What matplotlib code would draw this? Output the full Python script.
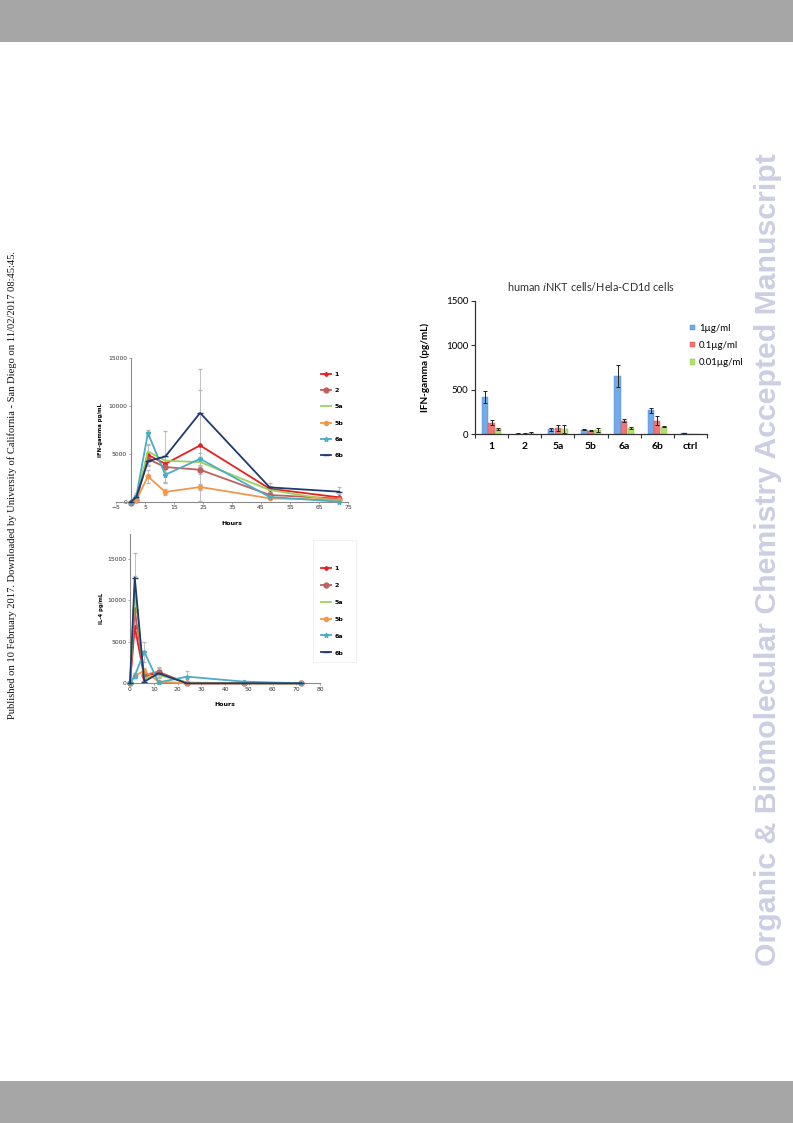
import matplotlib
matplotlib.use("Agg")
import matplotlib.pyplot as plt
from matplotlib.patches import Rectangle
from matplotlib.lines import Line2D
import numpy as np

# ---------------- data ----------------
hours = [0, 2, 6, 12, 24, 48, 72]
series_names = ['1', '2', '5a', '5b', '6a', '6b']

ifn_1 = [0, 300, 4900, 3970, 5880, 1380, 480]
ifn_2 = [-100, 200, 4460, 3630, 3350, 730, 350]
ifn_5a = [0, 400, 5250, 4290, 4150, 1250, 70]
ifn_5b = [-50, 200, 2660, 1040, 1560, 380, 240]
ifn_6a = [0, 600, 7150, 2830, 4490, 520, 30]
ifn_6b = [0, 500, 4250, 4730, 9260, 1520, 1070]
ifn_err_1 = [50, 100, 1100, 400, 5800, 300, 300]
ifn_err_2 = [50, 100, 600, 500, 400, 200, 150]
ifn_err_5a = [50, 100, 700, 500, 500, 200, 50]
ifn_err_5b = [50, 100, 700, 300, 300, 100, 100]
ifn_err_6a = [50, 300, 300, 900, 600, 200, 50]
ifn_err_6b = [50, 200, 500, 2650, 4550, 500, 500]

il4_1 = [0, 6830, 800, 1300, 0, 0, 0]
il4_2 = [0, 8840, 1000, 1400, 0, 0, 0]
il4_5a = [0, 11460, 600, 1000, 100, 0, 0]
il4_5b = [0, 900, 1500, 200, 0, 0, 0]
il4_6a = [0, 900, 3800, 100, 800, 200, 0]
il4_6b = [0, 12750, 200, 1200, 0, 0, 0]
il4_err_1 = [0, 1200, 300, 500, 0, 0, 0]
il4_err_2 = [0, 1200, 300, 600, 0, 0, 0]
il4_err_5a = [0, 1500, 300, 400, 0, 0, 0]
il4_err_5b = [0, 300, 400, 100, 0, 0, 0]
il4_err_6a = [0, 300, 1200, 100, 700, 100, 0]
il4_err_6b = [0, 2950, 100, 400, 0, 0, 0]

bar_cats = ['1', '2', '5a', '5b', '6a', '6b', 'ctrl']
bar_1ug = [414, 3, 53, 49, 654, 267, 11]
bar_1ug_err = [70, 3, 15, 5, 125, 30, 3]
bar_01ug = [128, 5, 71, 38, 150, 150, 0]
bar_01ug_err = [25, 5, 35, 8, 15, 50, 0]
bar_001ug = [56, 10, 56, 45, 71, 83, 0]
bar_001ug_err = [8, 15, 40, 25, 10, 8, 0]
bar_labels = ['1\u00b5g/ml', '0.1\u00b5g/ml', '0.01\u00b5g/ml']

# ---------------- styles ----------------
line_colors = ['#e8201f', '#c0605e', '#9bd25a', '#f0994a', '#4bacc6', '#1f3a6e']
line_markers = ['D', 'o', None, 'o', '*', '_']
line_msizes = [2.0, 3.5, 0, 3.0, 3.5, 4.0]

W, H = 793, 1123
fig = plt.figure(figsize=(W / 100, H / 100), dpi=100)
plt.rcParams['font.family'] = ['DejaVu Sans']

def fx(px):
    return px / W

def fy(py):
    return 1 - py / H

# header / footer bars
fig.patches.append(Rectangle((0, fy(42)), 1, 42 / H, transform=fig.transFigure,
                             facecolor='#a6a6a6', edgecolor='none', zorder=0))
fig.patches.append(Rectangle((0, 0), 1, 42 / H, transform=fig.transFigure,
                             facecolor='#a6a6a6', edgecolor='none', zorder=0))

# side texts
fig.text(fx(768), fy(560), 'Organic & Biomolecular Chemistry Accepted Manuscript',
         rotation=90, ha='center', va='center', fontsize=21.8, fontweight='bold',
         family=['Liberation Sans'], color='#cdcde3')
fig.text(fx(12), fy(485),
         'Published on 10 February 2017. Downloaded by University of California - San Diego on 11/02/2017 08:45:45.',
         rotation=90, ha='center', va='center', fontsize=7.6,
         family=['Liberation Serif'], color='#111111')


def line_chart(ax, data, errs, xlim, ylim, xticks, yticks, ylabel, ylab_x, hours_y):
    for name, y, e, c, m, ms in zip(series_names, data, errs, line_colors,
                                    line_markers, line_msizes):
        ax.errorbar(hours, y, yerr=e, color=c, lw=1.3, marker=m, ms=ms,
                    mfc=c, mec=c, ecolor='#b8b8b8', elinewidth=0.6, capsize=1.2,
                    label=name, clip_on=False, zorder=3)
    ax.set_xlim(*xlim)
    ax.set_ylim(*ylim)
    ax.set_xticks(xticks)
    ax.set_yticks(yticks)
    for s in ['top', 'right']:
        ax.spines[s].set_visible(False)
    for s in ['left', 'bottom']:
        ax.spines[s].set_color('#8a8a8a')
        ax.spines[s].set_linewidth(0.8)
    ax.tick_params(labelsize=4.3, length=1.5, width=0.5, colors='#8a8a8a',
                   labelcolor='#333333', pad=1)
    ax.set_ylabel(ylabel, fontsize=3.8, fontweight='bold')
    ax.yaxis.set_label_coords(ylab_x, 0.5)
    ax.set_xlabel('Hours', fontsize=4.5, fontweight='bold')
    ax.xaxis.set_label_coords(0.5, hours_y)
    ax.patch.set_alpha(0)


handles1 = [Line2D([], [], color=c, lw=1.3, marker=m, ms=ms, mfc=c, mec=c)
            for c, m, ms in zip(line_colors, line_markers, line_msizes)]

# ---------------- top line chart ----------------
ax1 = fig.add_axes([fx(116), fy(502), fx(348) - fx(116), (502 - 357.7) / H])
line_chart(ax1, [ifn_1, ifn_2, ifn_5a, ifn_5b, ifn_6a, ifn_6b],
           [ifn_err_1, ifn_err_2, ifn_err_5a, ifn_err_5b, ifn_err_6a, ifn_err_6b],
           (-5, 75), (0, 15000), list(range(-5, 76, 10)), [0, 5000, 10000, 15000],
           'IFN-gamma pg/mL', -0.055, -0.135)
ax1.spines['left'].set_position(('data', 0))
leg1 = ax1.legend(handles1, series_names, loc='upper left',
                  bbox_to_anchor=(fx(318), fy(369)), bbox_transform=fig.transFigure,
                  frameon=False, fontsize=4.5, handlelength=1.6, labelspacing=1.75,
                  handletextpad=0.6, borderaxespad=0)
for t in leg1.get_texts():
    t.set_fontweight('bold')

# ---------------- bottom line chart ----------------
ax2 = fig.add_axes([fx(130), fy(683.3), fx(320) - fx(130), (683.3 - 534) / H])
line_chart(ax2, [il4_1, il4_2, il4_5a, il4_5b, il4_6a, il4_6b],
           [il4_err_1, il4_err_2, il4_err_5a, il4_err_5b, il4_err_6a, il4_err_6b],
           (0, 80), (0, 18000), list(range(0, 81, 10)), [0, 5000, 10000, 15000],
           'IL-4 pg/mL', -0.135, -0.123)
# faint legend box
fig.patches.append(Rectangle((fx(313), fy(662)), (356 - 313) / W, (662 - 540) / H,
                             transform=fig.transFigure, facecolor='none',
                             edgecolor='#eeeeee', linewidth=0.6, zorder=1))
leg2 = ax2.legend(handles1, series_names, loc='upper left',
                  bbox_to_anchor=(fx(318), fy(563)), bbox_transform=fig.transFigure,
                  frameon=False, fontsize=4.5, handlelength=1.6, labelspacing=1.85,
                  handletextpad=0.6, borderaxespad=0)
for t in leg2.get_texts():
    t.set_fontweight('bold')

# ---------------- bar chart ----------------
ax3 = fig.add_axes([fx(475), fy(434), fx(707) - fx(475), (434 - 301) / H])
x = np.arange(len(bar_cats))
bw = 0.19
bar_colors = ['#74aaea', '#f07575', '#b5e06c']
bar_edges = ['#4f86c6', '#d05050', '#8cbc48']
for k, (vals, errs) in enumerate([(bar_1ug, bar_1ug_err), (bar_01ug, bar_01ug_err),
                                  (bar_001ug, bar_001ug_err)]):
    ax3.bar(x + (k - 1) * 0.2, vals, bw, yerr=errs, color=bar_colors[k],
            edgecolor=bar_edges[k], linewidth=0.3, label=bar_labels[k],
            error_kw=dict(ecolor='#222222', elinewidth=0.7, capsize=1.6, capthick=0.7))
ax3.set_xlim(-0.5, len(bar_cats) - 0.5)
ax3.set_ylim(0, 1500)
ax3.set_yticks([0, 500, 1000, 1500])
ax3.set_xticks(x)
ax3.set_xticklabels(bar_cats, fontsize=7.5, fontweight='bold', family=['Lato', 'DejaVu Sans'])
ax3.set_xticks(np.arange(-0.5, len(bar_cats), 1), minor=True)
ax3.tick_params(axis='x', which='major', length=0, pad=6)
ax3.tick_params(axis='x', which='minor', length=3, width=0.8, color='#333333')
ax3.tick_params(axis='y', length=3, width=0.8, color='#333333', labelsize=7, pad=2)
for t in ax3.get_yticklabels():
    t.set_family(['Lato', 'DejaVu Sans'])
for s in ['top', 'right']:
    ax3.spines[s].set_visible(False)
for s in ['left', 'bottom']:
    ax3.spines[s].set_color('#333333')
    ax3.spines[s].set_linewidth(0.9)
ax3.set_ylabel('IFN-gamma (pg/mL)', fontsize=7.2, fontweight='bold',
               family=['Lato', 'DejaVu Sans'])
ax3.yaxis.set_label_coords((430 - 475) / 232, 0.5)
ax3.set_title('human $\\mathit{i}$NKT cells/Hela-CD1d cells', fontsize=7.8,
              family=['Lato', 'DejaVu Sans'], color='#333333', pad=7)
leg3 = ax3.legend(loc='upper left', bbox_to_anchor=(fx(686), fy(320)),
                  bbox_transform=fig.transFigure, frameon=False,
                  handlelength=0.55, handleheight=0.55, handletextpad=0.4,
                  labelspacing=0.85, borderaxespad=0,
                  prop={'family': ['Lato', 'DejaVu Sans'], 'size': 6.9})
ax3.patch.set_alpha(0)

fig.savefig('out.png', dpi=100)
